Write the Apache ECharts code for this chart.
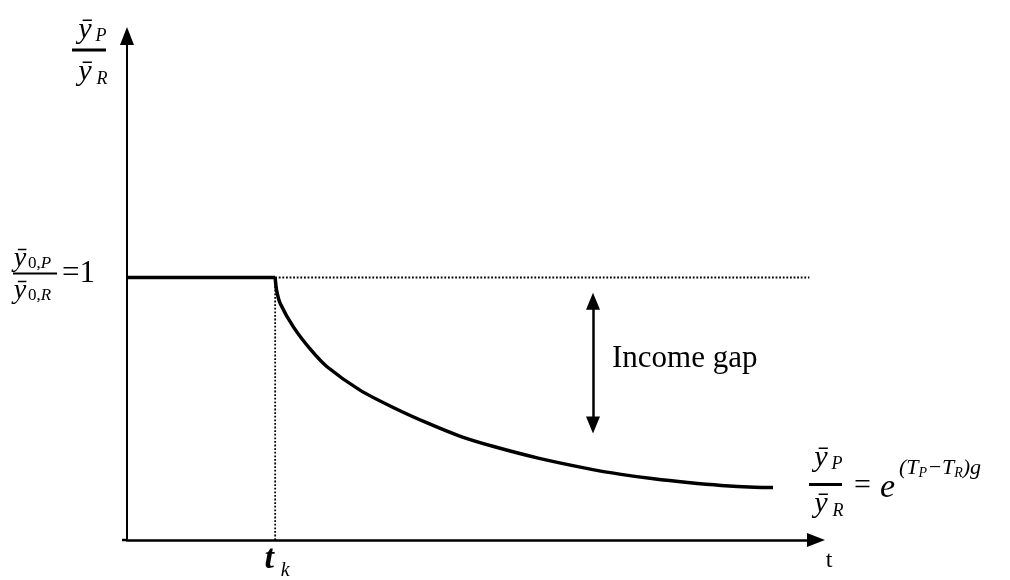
<!DOCTYPE html>
<html>
<head>
<meta charset="utf-8">
<script src="https://cdn.jsdelivr.net/npm/echarts@6/dist/echarts.min.js"></script>
<style>html,body{margin:0;padding:0;background:#fff}#c{width:1010px;height:580px}</style>
</head>
<body>
<div id="c"></div>
<script>
// ---- data (conceptual diagram units) ----
var tK = 2;                       // t_k switch time
var flatT = [0, 2];               // pre-t_k flat segment
var flatY = [1, 1];
var curveT = [2, 2.02, 2.07, 2.25, 2.48, 2.70, 3.15, 3.60, 4.06, 4.50, 4.95, 5.55, 6.22, 6.67, 7.11, 7.57, 8.02, 8.47, 8.72];
var curveY = [1, 0.95, 0.90, 0.81, 0.725, 0.660, 0.570, 0.504, 0.445, 0.395, 0.356, 0.312, 0.272, 0.250, 0.233, 0.219, 0.208, 0.201, 0.200];
var refLineEnd = 9.21;            // dotted y=1 reference line end
var gapT = 6.29;                  // income gap arrow position
var gapY = [0.91, 0.438];
var xMax = 9.3, yMax = 1.92;

var chart = echarts.init(document.getElementById('c'));
var serif = '"Liberation Serif","Times New Roman",serif';

function pairs(xs, ys){ return xs.map(function(x,i){ return [x, ys[i]]; }); }

chart.setOption({
  animation: false,
  grid: { left: 127, right: 194, top: 36, bottom: 40 },
  xAxis: {
    type: 'value', min: 0, max: xMax,
    axisLine: { show: true, onZero: false, symbol: ['none', 'triangle'], symbolSize: [14, 18], lineStyle: { color: '#000', width: 2.5 } },
    axisTick: { show: false }, axisLabel: { show: false }, splitLine: { show: false }
  },
  yAxis: {
    type: 'value', min: 0, max: yMax,
    axisLine: { show: true, onZero: false, symbol: ['none', 'triangle'], symbolSize: [14, 18], lineStyle: { color: '#000', width: 2 } },
    axisTick: { show: false }, axisLabel: { show: false }, splitLine: { show: false }
  },
  series: [
    { type: 'line', data: [[tK, 0], [tK, 1]], symbol: 'none', lineStyle: { color: '#000', width: 1.8, type: [1.8, 1.8] }, z: 1 },
    { type: 'line', data: [[tK, 1], [refLineEnd, 1]], symbol: 'none', lineStyle: { color: '#000', width: 1.8, type: [1.8, 1.8] }, z: 1 },
    { type: 'line', data: pairs(flatT, flatY), symbol: 'none', lineStyle: { color: '#000', width: 3.5 }, z: 3 },
    { type: 'line', data: pairs(curveT, curveY), symbol: 'none', smooth: 0.3, lineStyle: { color: '#000', width: 3.5 }, z: 3,
      markLine: {
        silent: true, symbol: ['triangle', 'triangle'], symbolSize: [14, 17], label: { show: false },
        lineStyle: { color: '#000', width: 2.5, type: 'solid' },
        data: [[{ coord: [gapT, gapY[0]] }, { coord: [gapT, gapY[1]] }]]
      }
    }
  ]
});

function px(t, y){ return chart.convertToPixel({ gridIndex: 0 }, [t, y]); }
function txt(x, y, s, size, opt){
  opt = opt || {};
  return { type: 'text', x: x, y: y, silent: true, style: {
    text: s, fontSize: size, fontFamily: serif, fontStyle: opt.italic ? 'italic' : 'normal',
    fontWeight: opt.bold ? 'bold' : 'normal', fill: '#000',
    align: opt.align || 'center', verticalAlign: 'middle', rich: opt.rich } };
}
function bar(x1, x2, y, w){
  return { type: 'line', silent: true, shape: { x1: x1, y1: y, x2: x2, y2: y }, style: { stroke: '#000', lineWidth: w } };
}

var pOne = px(0, 1), pTk = px(tK, 0), pEnd = px(curveT[curveT.length - 1], curveY[curveY.length - 1]);
var pGap = px(gapT, (gapY[0] + gapY[1]) / 2), pTop = px(0, yMax), pXEnd = px(xMax, 0), pO = px(0, 0);

var subRich = {
  u: { fontSize: 17, fontFamily: serif, fontStyle: 'normal' },
  i: { fontSize: 17, fontFamily: serif, fontStyle: 'italic' }
};

var g = [];
// small overhang of the horizontal axis left of the origin
g.push({ type: 'line', silent: true, shape: { x1: pO[0] - 5, y1: pO[1], x2: pO[0], y2: pO[1] }, style: { stroke: '#000', lineWidth: 2.5 } });
// top y-axis label
g.push(txt(pTop[0] - 42, pTop[1] - 6, 'ȳ', 30, { italic: true }));
g.push(txt(pTop[0] - 26, pTop[1] + 0, 'P', 18, { italic: true }));
g.push(bar(pTop[0] - 55, pTop[0] - 21, pTop[1] + 14, 3));
g.push(txt(pTop[0] - 42, pTop[1] + 36, 'ȳ', 30, { italic: true }));
g.push(txt(pTop[0] - 25, pTop[1] + 43, 'R', 18, { italic: true }));
// y = 1 label
g.push(txt(pOne[0] - 107, pOne[1] - 19, 'ȳ', 28, { italic: true }));
g.push(txt(pOne[0] - 99, pOne[1] - 14, '{u|0,}{i|P}', 17, { align: 'left', rich: subRich }));
g.push(bar(pOne[0] - 114, pOne[0] - 70, pOne[1] - 4, 2));
g.push(txt(pOne[0] - 107, pOne[1] + 13, 'ȳ', 28, { italic: true }));
g.push(txt(pOne[0] - 99, pOne[1] + 18, '{u|0,}{i|R}', 17, { align: 'left', rich: subRich }));
g.push(txt(pOne[0] - 65, pOne[1] - 4, '=1', 31, { align: 'left' }));
// t_k label
g.push(txt(pTk[0] - 6, pTk[1] + 19, 't', 34, { italic: true, bold: true }));
g.push(txt(pTk[0] + 10, pTk[1] + 31, 'k', 20, { italic: true }));
// t label
g.push(txt(pXEnd[0] + 13, pXEnd[1] + 21, 't', 24));
// income gap
g.push(txt(pGap[0] + 19, pGap[1] - 4, 'Income gap', 31, { align: 'left' }));
// right formula
var rx = pEnd[0] + 36, ry = pEnd[1] - 3;
g.push(txt(rx + 12, ry - 26, 'ȳ', 30, { italic: true }));
g.push(txt(rx + 28, ry - 20, 'P', 18, { italic: true }));
g.push(bar(rx, rx + 33, ry, 3));
g.push(txt(rx + 12, ry + 20, 'ȳ', 30, { italic: true }));
g.push(txt(rx + 29, ry + 27, 'R', 18, { italic: true }));
g.push(txt(rx + 45, ry + 2, '=', 30, { align: 'left' }));
g.push(txt(rx + 71, ry + 4, 'e', 34, { italic: true, align: 'left' }));
g.push(txt(rx + 90, ry - 16, '{b|(T}{c|P}{b|−T}{c|R}{b|)g}', 20, { align: 'left', rich: {
  b: { fontSize: 22, fontStyle: 'italic', fontFamily: serif, verticalAlign: 'middle' },
  c: { fontSize: 14, fontStyle: 'italic', fontFamily: serif, verticalAlign: 'middle', padding: [10, 0, 0, 0] }
} }));

chart.setOption({ graphic: g });
</script>
</body>
</html>
